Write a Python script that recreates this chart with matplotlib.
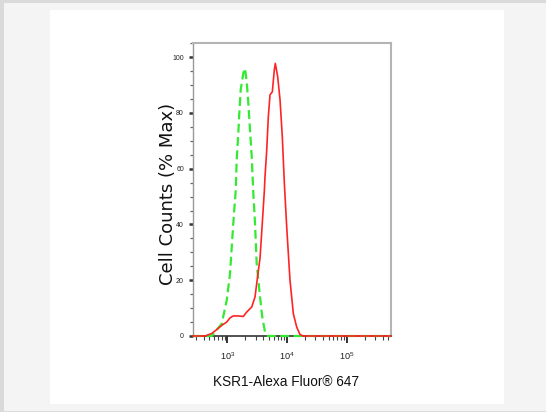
import numpy as np
import matplotlib
matplotlib.use("Agg")
import matplotlib.pyplot as plt
from matplotlib.patches import Rectangle
from matplotlib.ticker import LogLocator, LogFormatterMathtext, MultipleLocator

plt.rcParams["mathtext.fontset"] = "custom"
plt.rcParams["mathtext.rm"] = "Liberation Sans"
plt.rcParams["mathtext.it"] = "Liberation Sans:italic"
plt.rcParams["font.family"] = ["Liberation Sans", "DejaVu Sans"]

# ---- data (log10 of fluorescence intensity, % of max) ----
red_log = [2.425, 2.55, 2.626, 2.739, 2.822, 2.906, 2.990, 3.045, 3.100, 3.184, 3.268,
           3.325, 3.409, 3.464, 3.492, 3.548, 3.586, 3.620, 3.631, 3.660, 3.687,
           3.715, 3.754, 3.787, 3.804, 3.844, 3.883, 3.921, 3.955, 3.995, 4.050,
           4.106, 4.162, 4.218, 4.273, 5.742]
red_pct = [0.0, 0.0, 0.0, 0.9, 2.3, 3.8, 5.0, 6.5, 7.2, 7.2, 7.0,
           8.6, 10.4, 14.0, 18.8, 28.0, 40.5, 52.0, 57.0, 66.7, 78.7,
           86.5, 87.6, 95.4, 97.8, 93.0, 84.7, 71.5, 55.0, 39.0, 20.0,
           8.0, 3.2, 0.5, 0.0, 0.0]

green_log = [2.425, 2.739, 2.906, 2.990, 3.045, 3.100, 3.141, 3.157, 3.184, 3.201,
             3.224, 3.268, 3.296, 3.325, 3.352, 3.380, 3.409, 3.436, 3.464, 3.492,
             3.548, 3.586, 3.631, 3.677, 5.742]
green_pct = [0.0, 0.0, 4.4, 12.8, 22.4, 40.4, 52.3, 63.1, 72.7, 79.9,
             88.3, 94.3, 96.0, 91.2, 83.5, 73.9, 64.3, 51.1, 40.4, 26.0,
             14.0, 6.8, 1.4, 0.0, 0.0]

x_label = "KSR1-Alexa Fluor\u00ae 647"
y_label = "Cell Counts (% Max)"
y_ticks = [0, 20, 40, 60, 80, 100]

W, H = 546, 412
fig = plt.figure(figsize=(W / 100, H / 100), dpi=100)
fig.patch.set_facecolor("#f4f4f4")

def px_rect(x0, y0, x1, y1, color):
    fig.patches.append(Rectangle((x0 / W, 1 - y1 / H), (x1 - x0) / W, (y1 - y0) / H,
                                 transform=fig.transFigure, facecolor=color,
                                 edgecolor="none", zorder=-5))

px_rect(0, 0, W, 3, "#dadada")
px_rect(0, 0, 4, H, "#dadada")
px_rect(0, 410.5, W, H, "#dadada")
px_rect(50, 10, 504, 404, "#ffffff")

ax = fig.add_axes([193 / W, 1 - 336 / H, (391 - 193) / W, (336 - 43.3) / H])
ax.set_zorder(2)
ax.set_facecolor("white")

ax.plot(10 ** np.array(green_log), green_pct, color="#33ea33", lw=1.6,
        dashes=(4.0, 2.0), zorder=3, clip_on=False)
ax.plot(10 ** np.array(red_log), red_pct, color="#ff2424", lw=1.2,
        zorder=4, clip_on=False)

ax.set_xscale("log")
ax.set_xlim(10 ** 2.425, 10 ** 5.742)
ax.set_ylim(0, 105)

ax.xaxis.set_major_locator(LogLocator(base=10, numticks=10))
ax.xaxis.set_minor_locator(LogLocator(base=10, subs=np.arange(2, 10), numticks=20))
ax.xaxis.set_major_formatter(LogFormatterMathtext())
ax.set_yticks(y_ticks)
ax.yaxis.set_minor_locator(MultipleLocator(5))

ax.tick_params(axis="x", which="major", direction="out", length=5, width=1.3,
               color="#222222", labelsize=6.6, pad=5, labelcolor="#222222")
ax.tick_params(axis="x", which="minor", direction="out", length=3, width=0.8,
               color="#444444")
ax.tick_params(axis="y", which="major", direction="out", length=3, width=1.8,
               color="#333333", labelsize=5.0, pad=3.5, labelcolor="#222222")
ax.tick_params(axis="y", which="minor", direction="out", length=2, width=0.9,
               color="#666666")

for s in ("top", "right"):
    ax.spines[s].set_color("#b4b4b4")
    ax.spines[s].set_linewidth(1.5)
ax.spines["left"].set_color("#999999")
ax.spines["left"].set_linewidth(1.0)
ax.spines["bottom"].set_color("#333333")
ax.spines["bottom"].set_linewidth(1.2)

fig.text(168 / W, 1 - 193.5 / H, y_label, rotation=90, ha="center", va="center",
         fontsize=13, family=["DejaVu Sans"], color="#111111")
fig.text(286 / W, 1 - 382 / H, x_label, ha="center", va="center",
         fontsize=9.8, family=["Liberation Sans", "DejaVu Sans"],
         color="#111111")

fig.savefig("out.png", dpi=100, facecolor=fig.get_facecolor())
